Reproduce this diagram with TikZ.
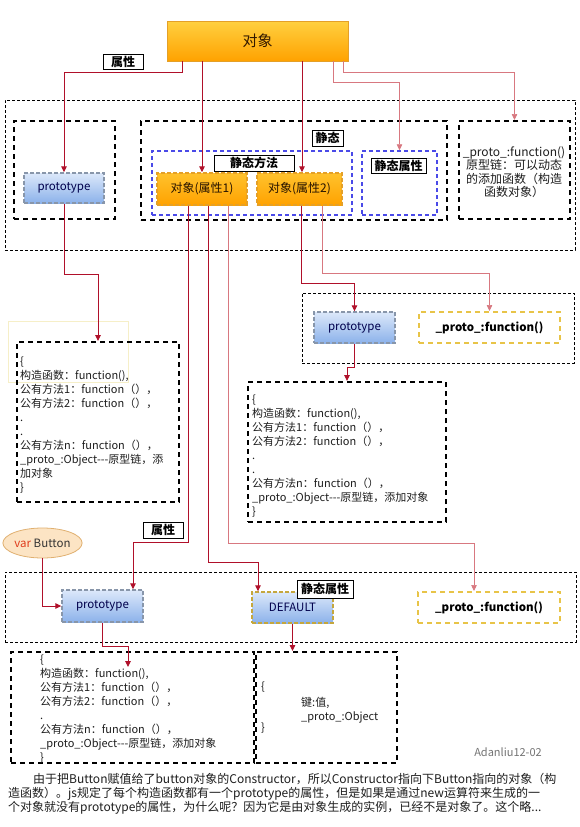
\documentclass[tikz,border=0pt]{standalone}
\usepackage{fontspec}
\setmainfont{Noto Sans CJK SC}
\usetikzlibrary{arrows.meta,shapes.geometric}
\definecolor{dred}{HTML}{B0102A}
\definecolor{lred}{HTML}{D87880}
\definecolor{orTop}{HTML}{FFD040}
\definecolor{orBot}{HTML}{FFA200}
\definecolor{orDraw}{HTML}{E4A028}
\definecolor{blTop}{HTML}{DCE8FA}
\definecolor{blBot}{HTML}{8CB2EA}
\definecolor{blDraw}{HTML}{8896AA}
\definecolor{yDash}{HTML}{E8C448}
\definecolor{bDash}{HTML}{4A4AE8}
\definecolor{faintY}{HTML}{F6EFC8}
\definecolor{ellFill}{HTML}{FCE4C4}
\definecolor{ellDraw}{HTML}{E0B070}
\definecolor{txtc}{HTML}{1E1E1E}
\begin{document}
\begin{tikzpicture}[x=1pt,y=-1pt,
  dl/.style={draw=dred,line width=0.9pt,-{Triangle[length=6pt,width=5.5pt]}},
  ll/.style={draw=lred,line width=0.7pt,-{Triangle[length=6pt,width=5.5pt]}},
  outer/.style={draw=black,line width=0.8pt,dash pattern=on 3pt off 2pt,inner sep=0pt},
  tbox/.style={draw=black,line width=2pt,dash pattern=on 5pt off 4pt,inner sep=0pt},
  bluebox/.style={draw=bDash,line width=1.5pt,dash pattern=on 4pt off 3pt,inner sep=0pt},
  ybox/.style={draw=yDash,line width=2pt,dash pattern=on 5pt off 4pt,inner sep=0pt,fill=white,
    font=\bfseries\fontsize{11.5}{12}\selectfont},
  lbl/.style={draw=black,fill=white,line width=0.8pt,inner sep=1pt,
    font=\bfseries\fontsize{12}{12}\selectfont},
  topbox/.style={draw=orDraw,line width=0.8pt,top color=orTop,bottom color=orBot,
    text=black!80!orange,font=\fontsize{15}{15}\selectfont,inner sep=0pt},
  ornode/.style={draw=orDraw,line width=1.4pt,dash pattern=on 4pt off 2pt,top color=orTop!70!orBot,
    bottom color=orBot,text=black!85!orange,font=\fontsize{12}{12}\selectfont,inner sep=0pt},
  blnode/.style={draw=blDraw,line width=1.4pt,dash pattern=on 4pt off 2pt,top color=blTop,
    bottom color=blBot,text=blue!30!black,font=\fontsize{11.5}{12}\selectfont,inner sep=0pt},
  txt/.style={inner sep=0pt,align=left,text=txtc,font=\fontsize{11}{14}\selectfont},
  para/.style={inner sep=0pt,text=txtc,font=\fontsize{12}{14}\selectfont}
]
\useasboundingbox[fill=white] (0,0) rectangle (580,827);

% ---------- containers ----------
\node[outer,minimum width=570pt,minimum height=150pt] (r1) at (290,175) {};
\node[tbox,minimum width=101pt,minimum height=98pt] (ba) at (64.5,170) {};
\node[tbox,minimum width=306pt,minimum height=99pt] (bb) at (294,170.5) {};
\node[bluebox,minimum width=200pt,minimum height=64pt] (sm) at (252,183) {};
\node[bluebox,minimum width=75pt,minimum height=64pt] (sa) at (399.5,183) {};
\node[tbox,minimum width=111pt,minimum height=98pt] (pc) at (514.5,170) {};
\node[inner sep=0pt,align=center,font=\fontsize{12}{13.5}\selectfont,text=txtc] (pct) at (514,172)
  {\_proto\_:function()\\原型链：可以动态\\的添加函数（构造\\函数对象）};

\node[outer,minimum width=272pt,minimum height=70pt] (r2) at (438,328) {};
\node[draw=faintY,line width=0.6pt,minimum width=120pt,minimum height=61pt,inner sep=0pt] (fy) at (68,351.5) {};
\node[tbox,minimum width=162pt,minimum height=160pt] (bd) at (98,422) {};
\node[tbox,minimum width=198pt,minimum height=140pt] (be) at (347,452) {};

\node[outer,minimum width=571pt,minimum height=70pt] (r3) at (290.5,607) {};
\node[tbox,minimum width=243pt,minimum height=111pt] (bf) at (132.5,707.5) {};
\node[tbox,minimum width=141pt,minimum height=111pt] (bg) at (326.5,707.5) {};

% ---------- nodes ----------
\node[topbox,minimum width=181pt,minimum height=40pt] (obj) at (257.5,41) {对象};
\node[lbl,minimum width=40pt,minimum height=15pt] (l1) at (123,61.5) {属性};
\node[lbl,minimum width=31pt,minimum height=16pt] (l2) at (327.5,138) {静态};
\node[lbl,minimum width=80pt,minimum height=16pt] (l3) at (254,163) {静态方法};
\node[lbl,minimum width=55pt,minimum height=15pt] (l4) at (398.5,165.5) {静态属性};
\node[blnode,minimum width=80pt,minimum height=30pt] (p1) at (64,188) {prototype};
\node[ornode,minimum width=90pt,minimum height=32pt] (o1) at (202,189) {对象(属性1)};
\node[ornode,minimum width=85pt,minimum height=32pt] (o2) at (299.5,189) {对象(属性2)};

\node[blnode,minimum width=81pt,minimum height=31pt] (p2) at (354.5,327.5) {prototype};
\node[ybox,minimum width=141pt,minimum height=31pt] (q2) at (489.5,327.5) {\_proto\_:function()};

\node[txt,anchor=north west] (td) at (20,357)
  {\{\\构造函数：function(),\\公有方法1：function（），\\公有方法2：function（），\\.\\.\\公有方法n：function（），\\\_proto\_:Object-{}-{}-原型链，添\\加对象\\\}};
\node[txt,anchor=north west] (te) at (252,395)
  {\{\\构造函数：function(),\\公有方法1：function（），\\公有方法2：function（），\\.\\.\\公有方法n：function（），\\\_proto\_:Object-{}-{}-原型链，添加对象\\\}};

\node[ellipse,draw=ellDraw,fill=ellFill,line width=0.8pt,minimum width=79pt,minimum height=30pt,inner sep=0pt,
  font=\fontsize{11.5}{12}\selectfont] (vb) at (42.5,543) {\textcolor[HTML]{E03C1C}{var} \textcolor[HTML]{333333}{Button}};
\node[lbl,minimum width=40pt,minimum height=16pt] (l5) at (163,530) {属性};
\node[blnode,minimum width=81pt,minimum height=32pt] (p3) at (102.5,606) {prototype};
\node[blnode,draw=yDash!85!black,minimum width=81pt,minimum height=31pt] (df) at (292.5,607.5) {DEFAULT};
\node[lbl,minimum width=56pt,minimum height=18pt] (l6) at (325,589) {静态属性};
\node[ybox,minimum width=142pt,minimum height=31pt] (q3) at (489,607.5) {\_proto\_:function()};

\node[txt,anchor=north west] (tf) at (40,655)
  {\{\\构造函数：function(),\\公有方法1：function（），\\公有方法2：function（），\\.\\公有方法n：function（），\\\_proto\_:Object-{}-{}-原型链，添加对象\\\}};
\node[txt,anchor=north west] (tg1) at (261,682) {\{\\[27pt]\}};
\node[txt,anchor=north west] (tg2) at (301,697) {键:值,\\\_proto\_:Object};

\node[inner sep=0pt,text=black!55,font=\fontsize{11}{12}\selectfont] (sig) at (508,752) {Adanliu12-02};

\node[para,anchor=base west] (t1) at (33,783.5) {由于把Button赋值给了button对象的Constructor，所以Constructor指向下Button指向的对象（构};
\node[para,anchor=base west] (t2) at (8,797.5) {造函数）。js规定了每个构造函数都有一个prototype的属性，但是如果是通过new运算符来生成的一};
\node[para,anchor=base west] (t3) at (8,811.5) {个对象就没有prototype的属性，为什么呢？因为它是由对象生成的实例，已经不是对象了。这个略...};

% ---------- connectors ----------
\coordinate (bfin) at (128,667);
\draw[dl] (obj.south -| 182,0) -- (182,72) -| (p1.north);
\draw[dl] (obj.south -| 202,0) -- (o1.north -| 202,0);
\draw[dl] (obj.south -| 302,0) -- (o2.north -| 302,0);
\draw[ll] (obj.south -| 333,0) -- (333,82) -| (sa.north);
\draw[ll] (obj.south -| 343,0) -- (343,72) -| (pc.north);
\draw[dl] (p1.south) -- (64,274) -| (bd.north);
\draw[dl] (o2.south -| 301,0) -- (301,283) -| (p2.north);
\draw[ll] (o2.south -| 322,0) -- (322,273) -| (q2.north);
\draw[dl] (p2.south) -- (354.5,367) -| (be.north);
\draw[dl] (o1.south -| 188,0) -- (188,542) -| (p3.north -| 133,0);
\draw[dl] (o1.south -| 208,0) -- (208,562) -| (df.north -| 258,0);
\draw[ll] (o1.south -| 228,0) -- (228,543) -| (q3.north -| 474,0);
\draw[dl] (vb.south) |- (p3.west);
\draw[dl] (p3.south) -- (102.5,646) -| (bfin);
\draw[dl] (df.south) -- (bg.north -| df.south);
\end{tikzpicture}
\end{document}
